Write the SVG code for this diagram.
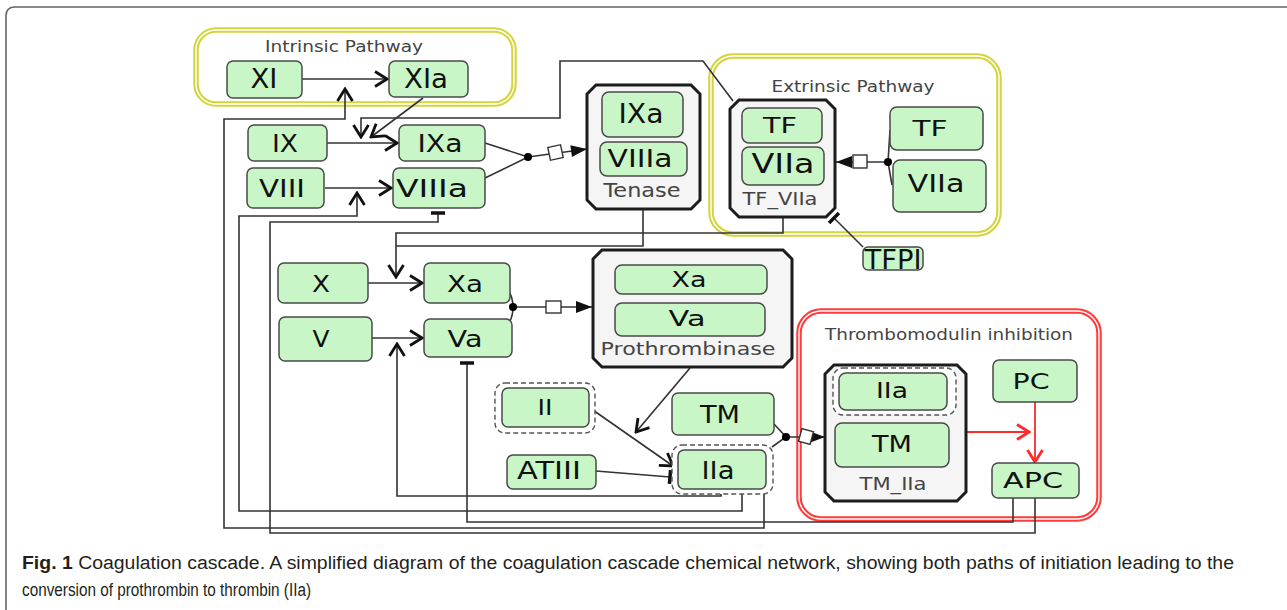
<svg xmlns="http://www.w3.org/2000/svg" width="1287" height="610" viewBox="0 0 1287 610">
  <style>
    .frame { fill: none; stroke: #666; stroke-width: 1.6; }
    .comp-y { fill: none; stroke: #d4d43c; stroke-width: 5.5; }
    .comp-r { fill: none; stroke: #ff3b3b; stroke-width: 5.5; }
    .comp-gap { fill: none; stroke: #fff; stroke-width: 1.4; }
    .comp-label { font-family: "DejaVu Sans", sans-serif; fill: #444; text-anchor: middle; }
    .cplx { fill: #f5f5f5; stroke: #1c1c1c; stroke-width: 3; }
    .cplx-label { font-family: "DejaVu Sans", sans-serif; fill: #444; text-anchor: middle; }
    .node rect.box { fill: #c9f6c6; stroke: #4a4a4a; stroke-width: 1.5; }
    .node text { font-family: "DejaVu Sans", sans-serif; fill: #111; text-anchor: middle; }
    .dash { fill: #fff; stroke: #555; stroke-width: 1.4; stroke-dasharray: 5 3; }
    .edge { fill: none; stroke: #333; stroke-width: 1.6; }
    .red { fill: none; stroke: #ff2a2a; stroke-width: 1.8; }
    .dot { fill: #000; }
    .sq { fill: #fff; stroke: #333; stroke-width: 1.4; }
    .caption { font-family: "Liberation Sans", Arial, sans-serif; fill: #231f20; font-size: 18px; }
  </style>
  <defs>
    <marker id="open" viewBox="-15 -10 17 20" refX="0" refY="0" markerWidth="17" markerHeight="20" markerUnits="userSpaceOnUse" orient="auto">
      <path d="M-12,-7.5 L0,0 L-12,7.5" fill="none" stroke="#111" stroke-width="2.8"/>
    </marker>
    <marker id="openRed" viewBox="-15 -10 17 20" refX="0" refY="0" markerWidth="17" markerHeight="20" markerUnits="userSpaceOnUse" orient="auto">
      <path d="M-12,-7.5 L0,0 L-12,7.5" fill="none" stroke="#ff2a2a" stroke-width="2.8"/>
    </marker>
    <marker id="filled" viewBox="-18 -8 19 16" refX="0" refY="0" markerWidth="19" markerHeight="16" markerUnits="userSpaceOnUse" orient="auto">
      <path d="M-16,-6 L0,0 L-16,6 Z" fill="#111"/>
    </marker>
    <marker id="tbar" viewBox="-3 -9 6 18" refX="0" refY="0" markerWidth="6" markerHeight="18" markerUnits="userSpaceOnUse" orient="auto">
      <path d="M0,-7 L0,7" stroke="#111" stroke-width="3.5"/>
    </marker>
  </defs>

  <rect width="1287" height="610" fill="#fff"/>
  <path class="frame" d="M6,610 V16 Q6,7 15,7 H1287"/>

  <!-- compartments -->
  <g id="intrinsic-pathway">
    <rect class="comp-y" x="196" y="30" width="318" height="74" rx="20"/>
    <rect class="comp-gap" x="196" y="30" width="318" height="74" rx="20"/>
    <text class="comp-label" x="344" y="52" font-size="15" textLength="158" lengthAdjust="spacingAndGlyphs">Intrinsic Pathway</text>
  </g>
  <g id="extrinsic-pathway">
    <rect class="comp-y" x="711" y="56" width="288" height="178" rx="22"/>
    <rect class="comp-gap" x="711" y="56" width="288" height="178" rx="22"/>
    <text class="comp-label" x="853" y="92" font-size="15" textLength="163" lengthAdjust="spacingAndGlyphs">Extrinsic Pathway</text>
  </g>
  <g id="thrombomodulin-inhibition">
    <rect class="comp-r" x="799" y="311" width="300" height="208" rx="22"/>
    <rect class="comp-gap" x="799" y="311" width="300" height="208" rx="22"/>
    <text class="comp-label" x="949" y="340" font-size="16" textLength="248" lengthAdjust="spacingAndGlyphs">Thrombomodulin inhibition</text>
  </g>

  <!-- connectors -->
  <g id="connectors">
    <!-- intrinsic activation -->
    <path class="edge" d="M302,79 H387" marker-end="url(#open)"/>
    <path class="edge" d="M764,494 V528 H224 V119 H345 V89" marker-end="url(#open)"/>
    <path class="edge" d="M423,98 L371,137" marker-end="url(#open)"/>
    <path class="edge" d="M733,101 L703,61 H560 V118 H361 V137" marker-end="url(#open)"/>
    <path class="edge" d="M327,143 H397" marker-end="url(#open)"/>
    <path class="edge" d="M325,188 H391" marker-end="url(#open)"/>
    <path class="edge" d="M742,494 V511 H239 V216 H357 V193" marker-end="url(#open)"/>
    <path class="edge" d="M1035,498 V533 H270 V222 H438 V213" marker-end="url(#tbar)"/>

    <!-- tenase assembly -->
    <path class="edge" d="M485,143 L528,157 M485,178 L528,157"/>
    <path class="edge" d="M528,157 L587,149" marker-end="url(#filled)"/>
    <circle class="dot" cx="528" cy="157" r="4"/>
    <rect class="sq" x="549" y="146" width="13" height="13" transform="rotate(-12 555.5 152.5)"/>

    <!-- TF:VIIa assembly and inhibition -->
    <path class="edge" d="M890,130 L888,162 L892,185"/>
    <path class="edge" d="M888,162 H836" marker-end="url(#filled)"/>
    <circle class="dot" cx="888" cy="162" r="4"/>
    <rect class="sq" x="853" y="155" width="14" height="13"/>
    <path class="edge" d="M863,247 L834,218" marker-end="url(#tbar)"/>

    <!-- X activation -->
    <path class="edge" d="M783,217 V233 H396 V277" marker-end="url(#open)"/>
    <path class="edge" d="M643,209 V246 H396"/>
    <path class="edge" d="M368,283 H422" marker-end="url(#open)"/>
    <path class="edge" d="M372,338 H422" marker-end="url(#open)"/>
    <path class="edge" d="M721,489 V496 H397 V344" marker-end="url(#open)"/>
    <path class="edge" d="M1013,498 V522 H467 V363" marker-end="url(#tbar)"/>

    <!-- prothrombinase assembly -->
    <path class="edge" d="M509,292 Q513,298 513,307 Q513,315 510,321"/>
    <path class="edge" d="M513,307 H592" marker-end="url(#filled)"/>
    <circle class="dot" cx="513" cy="307" r="4"/>
    <rect class="sq" x="546" y="301" width="15" height="12"/>

    <!-- prothrombin conversion -->
    <path class="edge" d="M590,408 L673,466" marker-end="url(#open)"/>
    <path class="edge" d="M690,368 L636,432" marker-end="url(#open)"/>
    <path class="edge" d="M596,471 L670,477" marker-end="url(#tbar)"/>

    <!-- TM:IIa assembly -->
    <path class="edge" d="M774,424 L786,437 L772,447"/>
    <path class="edge" d="M786,437 H825" marker-end="url(#filled)"/>
    <circle class="dot" cx="786" cy="437" r="4"/>
    <rect class="sq" x="800" y="430" width="12" height="13" transform="rotate(15 806 436.5)"/>

    <!-- protein C activation -->
    <path class="red" d="M966,432 H1029" marker-end="url(#openRed)"/>
    <path class="red" d="M1035,402 V462" stroke-width="2.4" marker-end="url(#openRed)"/>
  </g>

  <!-- complexes -->
  <g id="tenase">
    <polygon class="cplx" points="596,85 691,85 700,94 700,200 691,209 596,209 587,200 587,94"/>
    <text class="cplx-label" x="642" y="197" font-size="19" textLength="77" lengthAdjust="spacingAndGlyphs">Tenase</text>
  </g>
  <g id="tf-viia">
    <polygon class="cplx" points="739,100 826,100 835,109 835,208 826,217 739,217 730,208 730,109"/>
    <text class="cplx-label" x="780" y="205" font-size="17" textLength="75" lengthAdjust="spacingAndGlyphs">TF_VIIa</text>
  </g>
  <g id="prothrombinase">
    <polygon class="cplx" points="602,250 783,250 792,259 792,358 783,367 602,367 593,358 593,259"/>
    <text class="cplx-label" x="688" y="355" font-size="18" textLength="175" lengthAdjust="spacingAndGlyphs">Prothrombinase</text>
  </g>
  <g id="tm-iia">
    <polygon class="cplx" points="834,365 957,365 966,374 966,492 957,501 834,501 825,492 825,374"/>
    <text class="cplx-label" x="893" y="490" font-size="17" textLength="67" lengthAdjust="spacingAndGlyphs">TM_IIa</text>
  </g>

  <!-- dashed multimer outlines -->
  <rect class="dash" x="495" y="383" width="100" height="50" rx="10"/>
  <rect class="dash" x="672" y="445" width="101" height="49" rx="10"/>
  <rect class="dash" x="833" y="368" width="123" height="47" rx="10"/>

  <!-- species -->
  <g id="XI" class="node"><rect class="box" x="227" y="61" width="75" height="37" rx="6"/><text x="264" y="88" font-size="26" textLength="27" lengthAdjust="spacingAndGlyphs">XI</text></g>
  <g id="XIa" class="node"><rect class="box" x="389" y="61" width="79" height="36" rx="6"/><text x="426" y="88" font-size="26" textLength="44" lengthAdjust="spacingAndGlyphs">XIa</text></g>
  <g id="IX" class="node"><rect class="box" x="248" y="125" width="79" height="36" rx="6"/><text x="285" y="152" font-size="25" textLength="26" lengthAdjust="spacingAndGlyphs">IX</text></g>
  <g id="IXa" class="node"><rect class="box" x="399" y="125" width="86" height="36" rx="6"/><text x="440" y="152" font-size="25" textLength="45" lengthAdjust="spacingAndGlyphs">IXa</text></g>
  <g id="VIII" class="node"><rect class="box" x="247" y="168" width="77" height="40" rx="6"/><text x="282" y="197" font-size="25" textLength="46" lengthAdjust="spacingAndGlyphs">VIII</text></g>
  <g id="VIIIa" class="node"><rect class="box" x="393" y="168" width="92" height="40" rx="6"/><text x="432" y="197" font-size="25" textLength="72" lengthAdjust="spacingAndGlyphs">VIIIa</text></g>

  <g id="Tenase-IXa" class="node"><rect class="box" x="602" y="92" width="81" height="45" rx="7"/><text x="641" y="123" font-size="27" textLength="45" lengthAdjust="spacingAndGlyphs">IXa</text></g>
  <g id="Tenase-VIIIa" class="node"><rect class="box" x="600" y="142" width="87" height="34" rx="7"/><text x="640" y="167" font-size="24" textLength="65" lengthAdjust="spacingAndGlyphs">VIIIa</text></g>

  <g id="TFVIIa-TF" class="node"><rect class="box" x="742" y="108" width="80" height="35" rx="7"/><text x="780" y="133" font-size="22" textLength="34" lengthAdjust="spacingAndGlyphs">TF</text></g>
  <g id="TFVIIa-VIIa" class="node"><rect class="box" x="742" y="147" width="82" height="38" rx="7"/><text x="783" y="173" font-size="27" textLength="63" lengthAdjust="spacingAndGlyphs">VIIa</text></g>
  <g id="TF" class="node"><rect class="box" x="890" y="107" width="93" height="43" rx="7"/><text x="930" y="136" font-size="22" textLength="35" lengthAdjust="spacingAndGlyphs">TF</text></g>
  <g id="VIIa" class="node"><rect class="box" x="893" y="160" width="93" height="52" rx="7"/><text x="936" y="192" font-size="24" textLength="57" lengthAdjust="spacingAndGlyphs">VIIa</text></g>
  <g id="TFPI" class="node"><rect class="box" x="863" y="247" width="60" height="23" rx="5"/><text x="893" y="269" font-size="27" textLength="57" lengthAdjust="spacingAndGlyphs">TFPI</text></g>

  <g id="X" class="node"><rect class="box" x="278" y="263" width="90" height="40" rx="6"/><text x="321" y="292" font-size="23" textLength="18" lengthAdjust="spacingAndGlyphs">X</text></g>
  <g id="Xa" class="node"><rect class="box" x="424" y="263" width="86" height="40" rx="6"/><text x="465" y="292" font-size="23" textLength="36" lengthAdjust="spacingAndGlyphs">Xa</text></g>
  <g id="V" class="node"><rect class="box" x="279" y="317" width="93" height="44" rx="6"/><text x="321" y="347" font-size="23" textLength="17" lengthAdjust="spacingAndGlyphs">V</text></g>
  <g id="Va" class="node"><rect class="box" x="424" y="319" width="88" height="38" rx="6"/><text x="465" y="347" font-size="23" textLength="35" lengthAdjust="spacingAndGlyphs">Va</text></g>

  <g id="Prothrombinase-Xa" class="node"><rect class="box" x="615" y="265" width="152" height="29" rx="7"/><text x="689" y="287" font-size="21" textLength="35" lengthAdjust="spacingAndGlyphs">Xa</text></g>
  <g id="Prothrombinase-Va" class="node"><rect class="box" x="615" y="303" width="150" height="33" rx="7"/><text x="687" y="326" font-size="22" textLength="37" lengthAdjust="spacingAndGlyphs">Va</text></g>

  <g id="II" class="node"><rect class="box" x="502" y="388" width="87" height="39" rx="6"/><text x="545" y="415" font-size="22" textLength="15" lengthAdjust="spacingAndGlyphs">II</text></g>
  <g id="TM" class="node"><rect class="box" x="672" y="393" width="102" height="42" rx="6"/><text x="720" y="423" font-size="25" textLength="40" lengthAdjust="spacingAndGlyphs">TM</text></g>
  <g id="ATIII" class="node"><rect class="box" x="507" y="455" width="89" height="34" rx="6"/><text x="549" y="479" font-size="24" textLength="64" lengthAdjust="spacingAndGlyphs">ATIII</text></g>
  <g id="IIa" class="node"><rect class="box" x="678" y="450" width="88" height="39" rx="6"/><text x="718" y="479" font-size="24" textLength="33" lengthAdjust="spacingAndGlyphs">IIa</text></g>

  <g id="TMIIa-IIa" class="node"><rect class="box" x="839" y="373" width="108" height="37" rx="7"/><text x="892" y="398" font-size="22" textLength="32" lengthAdjust="spacingAndGlyphs">IIa</text></g>
  <g id="TMIIa-TM" class="node"><rect class="box" x="835" y="423" width="114" height="44" rx="7"/><text x="892" y="452" font-size="23" textLength="40" lengthAdjust="spacingAndGlyphs">TM</text></g>
  <g id="PC" class="node"><rect class="box" x="993" y="360" width="84" height="42" rx="6"/><text x="1031" y="389" font-size="22" textLength="37" lengthAdjust="spacingAndGlyphs">PC</text></g>
  <g id="APC" class="node"><rect class="box" x="992" y="463" width="87" height="35" rx="6"/><text x="1033" y="488" font-size="22" textLength="60" lengthAdjust="spacingAndGlyphs">APC</text></g>

  <!-- caption -->
  <text class="caption" x="22" y="569" textLength="1212" lengthAdjust="spacingAndGlyphs"><tspan font-weight="bold">Fig. 1</tspan> Coagulation cascade. A simplified diagram of the coagulation cascade chemical network, showing both paths of initiation leading to the</text>
  <text class="caption" x="22" y="596" textLength="289" lengthAdjust="spacingAndGlyphs">conversion of prothrombin to thrombin (IIa)</text>
</svg>
